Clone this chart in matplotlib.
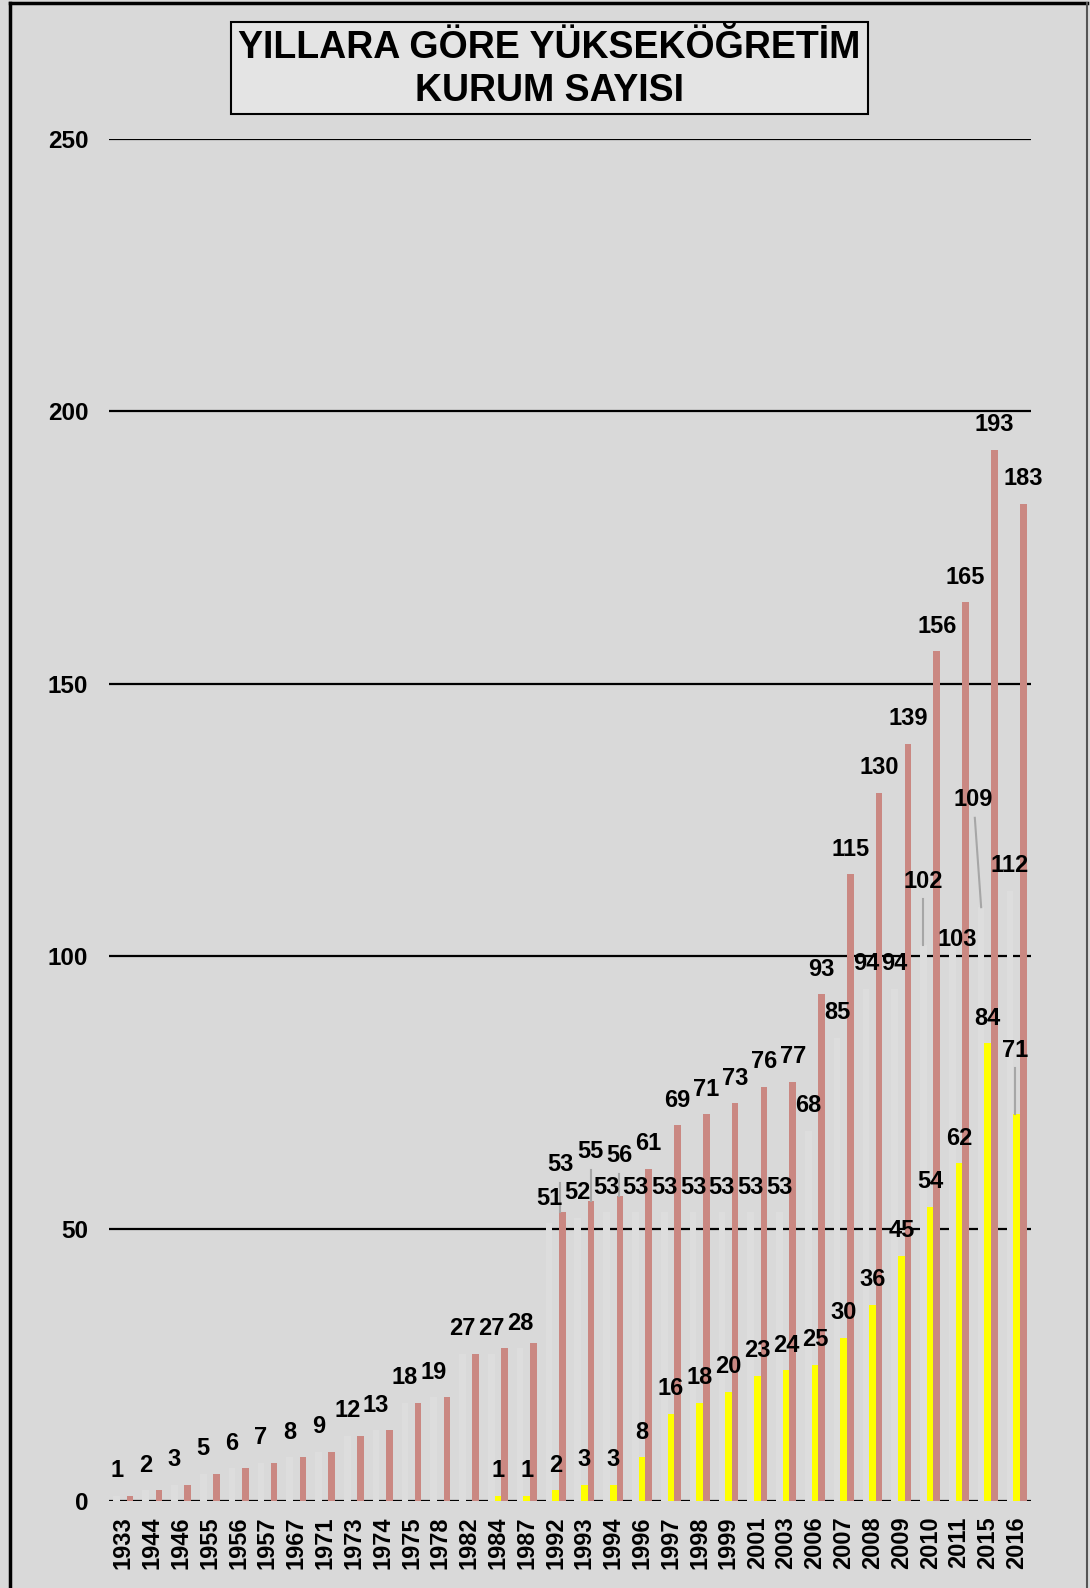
import matplotlib
matplotlib.use('Agg')
import matplotlib.pyplot as plt
from matplotlib.patches import Rectangle
from matplotlib.lines import Line2D
import numpy as np

years = [1933, 1944, 1946, 1955, 1956, 1957, 1967, 1971, 1973, 1974, 1975, 1978,
         1982, 1984, 1987, 1992, 1993, 1994, 1996, 1997, 1998, 1999, 2001, 2003,
         2006, 2007, 2008, 2009, 2010, 2011, 2015, 2016]
state = [1, 2, 3, 5, 6, 7, 8, 9, 12, 13, 18, 19, 27, 27, 28, 51, 52, 53, 53, 53,
         53, 53, 53, 53, 68, 85, 94, 94, 102, 103, 109, 112]
foundation = [0, 0, 0, 0, 0, 0, 0, 0, 0, 0, 0, 0, 0, 1, 1, 2, 3, 3, 8, 16, 18, 20,
              23, 24, 25, 30, 36, 45, 54, 62, 84, 71]
total = [1, 2, 3, 5, 6, 7, 8, 9, 12, 13, 18, 19, 27, 28, 29, 53, 55, 56, 61, 69,
         71, 73, 76, 77, 93, 115, 130, 139, 156, 165, 193, 183]

plt.rcParams['font.family'] = ['Liberation Sans', 'DejaVu Sans']

W, H = 1090, 1588
fig = plt.figure(figsize=(W / 100, H / 100), dpi=100, facecolor='#d9d9d9')
ax = fig.add_axes([109 / W, 1 - 1501 / H, (1031 - 109) / W, (1501 - 139) / H])
ax.set_facecolor('none')

x = np.arange(len(years))
w = 0.23
for v in range(0, 251, 50):
    ax.axhline(v, color='black', lw=1.6, zorder=1)

ax.bar(x - w, state, w, color='#dddddd', zorder=2)
ax.bar(x, foundation, w, color='#ffff00', zorder=3)
ax.bar(x + w, total, w, color='#ca8882', zorder=3)

ax.set_xlim(-0.5, len(years) - 0.5)
ax.set_ylim(0, 250)
ax.set_yticks(range(0, 251, 50))
ax.set_xticks(x)
ax.set_xticklabels([str(y) for y in years], rotation=90)
ax.tick_params(axis='y', length=0, pad=15, labelsize=17.5)
ax.tick_params(axis='x', length=0, pad=11, labelsize=17)
for lab in ax.get_xticklabels() + ax.get_yticklabels():
    lab.set_fontweight('bold')
for s in ax.spines.values():
    s.set_visible(False)

# label offsets that were moved by hand in the original
moved = {
    ('total', 15): (-0.07, 8.7),
    ('total', 16): (-0.01, 9.1),
    ('total', 17): (-0.03, 7.4),
    ('state', 28): (-0.02, 11.8),
    ('state', 29): (0.18, 0.0),
    ('state', 30): (-0.29, 19.7),
    ('found', 31): (-0.05, 11.7),
}
leaders = [('total', 15), ('total', 16), ('total', 17), ('state', 28),
           ('state', 30), ('found', 31)]


def put(kind, i, bx, v):
    ddx, ddy = moved.get((kind, i), (0, 4.6))
    lx, ly = bx + ddx, v + ddy
    ax.text(lx, ly, str(v), ha='center', va='center', fontsize=17,
            fontweight='bold', zorder=6, clip_on=False)
    if (kind, i) in leaders:
        x0 = lx if abs(lx - bx) < 0.15 else bx
        x1 = lx if abs(lx - bx) < 0.15 else lx + 0.07
        ax.plot([x0, x1], [v, ly - 3.3], color='#a6a6a6', lw=1.5, zorder=5)


for i in x:
    put('state', i, i - w, state[i])
    if foundation[i] > 0:
        put('found', i, i, foundation[i])
    if years[i] >= 1992:
        put('total', i, i + w, total[i])

# title box
fig.add_artist(Rectangle((231 / W, 1 - 114 / H), (868 - 231) / W, (114 - 22) / H,
                         transform=fig.transFigure, facecolor='#e4e4e4',
                         edgecolor='black', lw=1.5))
fig.text(549.5 / W, 1 - 47.5 / H, 'YILLARA GÖRE YÜKSEKÖĞRETİM', ha='center',
         va='center', fontsize=27, fontweight='bold')
fig.text(549.5 / W, 1 - 91 / H, 'KURUM SAYISI', ha='center', va='center',
         fontsize=27, fontweight='bold')

# outer frame
fig.add_artist(Line2D([9.5 / W, 9.5 / W], [0, 1 - 3 / H], color='black', lw=2.5))
fig.add_artist(Line2D([9.5 / W, 1087 / W], [1 - 3 / H, 1 - 3 / H], color='black', lw=2.5))
fig.add_artist(Line2D([1087 / W, 1087 / W], [0, 1 - 3 / H], color='#555555', lw=1.5))

fig.savefig('out.png', dpi=100, facecolor=fig.get_facecolor())
